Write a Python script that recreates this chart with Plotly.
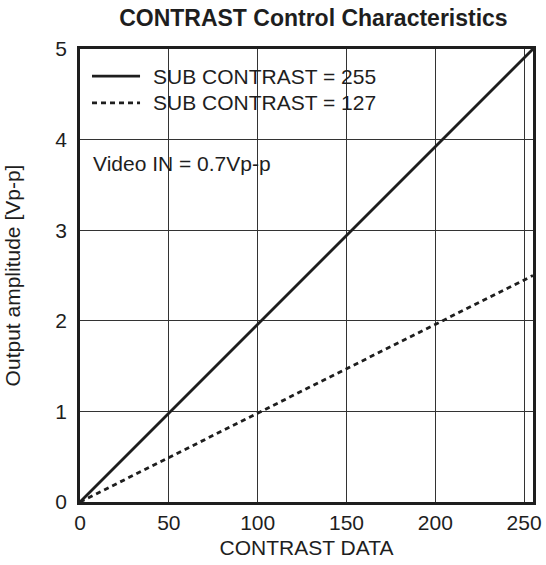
import plotly.graph_objects as go

contrast_data = [0, 255]
out_255 = [0, 5.0]
out_127 = [0, 2.5]
x_ticks = [0, 50, 100, 150, 200, 250]
y_ticks = [0, 1, 2, 3, 4, 5]
series_names = ["SUB CONTRAST = 255", "SUB CONTRAST = 127"]
note_text = "Video IN = 0.7Vp-p"

INK = "#1e1e1e"
FONT = "Liberation Sans, Arial, sans-serif"
FS = 21

fig = go.Figure()
fig.add_trace(go.Scatter(x=contrast_data, y=out_255, mode="lines", name=series_names[0],
                         line=dict(color=INK, width=2.8)))
fig.add_trace(go.Scatter(x=contrast_data, y=out_127, mode="lines", name=series_names[1],
                         line=dict(color=INK, width=2.8, dash="5px,4px")))

# manual legend (samples + labels)
legend_rows = [(0.940, "solid"), (0.881, "5px,4px")]
for (yy, dash), name in zip(legend_rows, series_names):
    fig.add_shape(type="line", xref="paper", yref="paper", x0=0.0265, x1=0.1325, y0=yy, y1=yy,
                  line=dict(color=INK, width=2.8, dash=dash))
    fig.add_annotation(x=0.157, y=yy, xref="paper", yref="paper", text=name, showarrow=False,
                       xanchor="left", yanchor="middle", font=dict(size=FS, color=INK))

fig.add_annotation(x=0.024, y=0.748, xref="paper", yref="paper", text=note_text,
                   showarrow=False, xanchor="left", yanchor="middle",
                   font=dict(size=FS, color=INK))

fig.update_layout(
    width=546, height=565,
    margin=dict(l=80, r=13, t=49, b=63),
    paper_bgcolor="white", plot_bgcolor="white",
    font=dict(family=FONT, size=FS, color=INK),
    title=dict(text="<b>CONTRAST Control Characteristics</b>", x=0.574, xanchor="center",
               y=0.968, yanchor="middle", font=dict(size=23, color=INK)),
    showlegend=False,
    xaxis=dict(range=[0, 255], tickvals=x_ticks, showgrid=True, gridcolor="#333", gridwidth=1,
               zeroline=False, showline=True, linecolor=INK, linewidth=2.5, mirror=True,
               ticks="", automargin=False,
               title=dict(text="CONTRAST DATA", font=dict(size=FS), standoff=8),
               tickfont=dict(size=FS)),
    yaxis=dict(range=[0, 5], tickvals=y_ticks, showgrid=True, gridcolor="#333", gridwidth=1,
               zeroline=False, showline=True, linecolor=INK, linewidth=2.5, mirror=True,
               ticks="", automargin=False, ticklabelstandoff=6,
               title=dict(text="Output amplitude [Vp-p]", font=dict(size=FS), standoff=30),
               tickfont=dict(size=FS)),
)

fig.write_html("out.html", config={"displayModeBar": False},
               post_script="document.body.style.margin='0px';")
